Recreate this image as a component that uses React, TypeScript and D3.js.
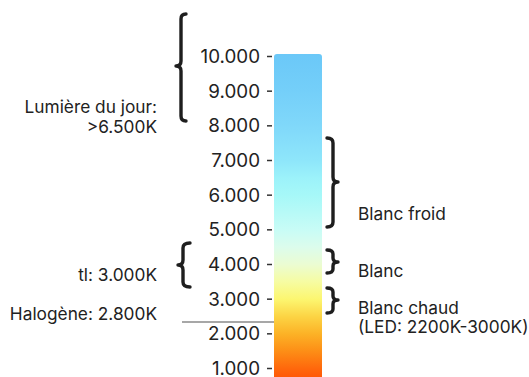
import React from "react";
import * as d3 from "d3";

const W = 529;
const H = 377;

// Tick values (Kelvin) and labels
const tickValues = [1000, 2000, 3000, 4000, 5000, 6000, 7000, 8000, 9000, 10000];
const tickLabels = ["1.000", "2.000", "3.000", "4.000", "5.000", "6.000", "7.000", "8.000", "9.000", "10.000"];

// Bar extent (Kelvin)
const barExtent = [700, 10075];

// Gradient stops: [Kelvin, colour]
const gradientKelvin = [700, 1000, 1500, 2000, 2500, 3000, 3500, 4000, 4500, 5000, 6000, 6500, 7000, 8000, 9000, 10075];
const gradientColors = ["#ff5606", "#ff680c", "#fd8e16", "#fcb226", "#fcd444", "#fcf670", "#f6fca2", "#ebfcd2", "#dcfcec", "#c8fcf6", "#a6f8f8", "#9cf2fa", "#8ee6fa", "#80d8fa", "#74cff9", "#6bc8f8"];

// Braces: [top K, cusp K, bottom K]
const braceNames = ["jour", "tl", "froid", "blanc", "chaud"];
const braceTop = [11226, 4620, 7649, 4418, 3322];
const braceCusp = [9726, 3986, 6380, 4072, 2976];
const braceBottom = [8139, 3351, 5082, 3755, 2601];
const braceSide = ["left", "left", "right", "right", "right"];

// Labels: text lines, anchor K (first line centre), side
const leftLabelLines = [["Lumière du jour:", ">6.500K"], ["tl: 3.000K"], ["Halogène: 2.800K"]];
const leftLabelK = [8572, 3726, 2587];
const rightLabelLines = [["Blanc froid"], ["Blanc"], ["Blanc chaud", "(LED: 2200K-3000K)"]];
const rightLabelK = [5486, 3827, 2788];

// Halogen marker line (K position on scale)
const halogenLineK = 2340;

const FONT = "Inter, 'Noto Sans', sans-serif";
const TEXT = "#222";

function bracePath(x: number, y0: number, yc: number, y1: number, s: number, h: number, t: number) {
  const r = Math.min(5, (yc - y0) / 3);
  const r2 = Math.min(5, (yc - y0) / 3);
  return [
    `M${x - s * h},${y0}`,
    `Q${x},${y0} ${x},${y0 + r}`,
    `L${x},${yc - r2}`,
    `Q${x},${yc} ${x + s * t},${yc}`,
    `Q${x},${yc} ${x},${yc + r2}`,
    `L${x},${y1 - r}`,
    `Q${x},${y1} ${x - s * h},${y1}`,
  ].join(" ");
}

export default function App() {
  const y = d3.scaleLinear().domain([1000, 10000]).range([368.5, 56.5]);
  const barX = 274;
  const barW = 48;
  const tickX1 = 267;
  const tickX2 = 272;
  const labelRight = 260;
  const leftTextX = 157;
  const rightTextX = 358;

  const barTop = y(barExtent[1]);
  const barBottom = y(barExtent[0]);

  return (
    <svg width={W} height={H} style={{ position: "absolute", left: 0, top: 0 }}>
      <defs>
        <linearGradient id="kgrad" gradientUnits="userSpaceOnUse" x1={0} x2={0} y1={barBottom} y2={barTop}>
          {gradientKelvin.map((k, i) => (
            <stop key={i} offset={(k - barExtent[0]) / (barExtent[1] - barExtent[0])} stopColor={gradientColors[i]} />
          ))}
        </linearGradient>
      </defs>

      <rect x={barX} y={barTop} width={barW} height={barBottom - barTop + 6} rx={3} ry={3} fill="url(#kgrad)" />

      {tickValues.map((v, i) => (
        <g key={v}>
          <line x1={tickX1} x2={tickX2} y1={y(v)} y2={y(v)} stroke="#333" strokeWidth={1.5} />
          <text x={labelRight} y={y(v)} textAnchor="end" dominantBaseline="central" fontFamily={FONT} fontSize={18.8} fill={TEXT}>
            {tickLabels[i]}
          </text>
        </g>
      ))}

      <line x1={182} x2={barX} y1={y(halogenLineK)} y2={y(halogenLineK)} stroke="#8a8a8a" strokeWidth={1.5} />

      {braceNames.map((n, i) => {
        const left = braceSide[i] === "left";
        const s = left ? -1 : 1;
        const x = left ? (n === "jour" ? 181 : 183) : 333;
        const h = left ? (n === "jour" ? 5 : 7) : 6;
        const t = 5;
        return (
          <path
            key={n}
            d={bracePath(x, y(braceTop[i]), y(braceCusp[i]), y(braceBottom[i]), s, h, t)}
            fill="none"
            stroke="#1e1e1e"
            strokeWidth={3.4}
            strokeLinecap="round"
            strokeLinejoin="round"
          />
        );
      })}

      {leftLabelLines.map((lines, i) => (
        <text key={i} x={leftTextX} y={y(leftLabelK[i])} textAnchor="end" dominantBaseline="central" fontFamily={FONT} fontSize={17.3} fill={TEXT}>
          {lines.map((l, j) => (
            <tspan key={j} x={leftTextX} dy={j === 0 ? 0 : 20}>{l}</tspan>
          ))}
        </text>
      ))}

      {rightLabelLines.map((lines, i) => (
        <text key={i} x={rightTextX} y={y(rightLabelK[i])} textAnchor="start" dominantBaseline="central" fontFamily={FONT} fontSize={17.3} fill={TEXT}>
          {lines.map((l, j) => (
            <tspan key={j} x={rightTextX} dy={j === 0 ? 0 : 19}>{l}</tspan>
          ))}
        </text>
      ))}
    </svg>
  );
}
